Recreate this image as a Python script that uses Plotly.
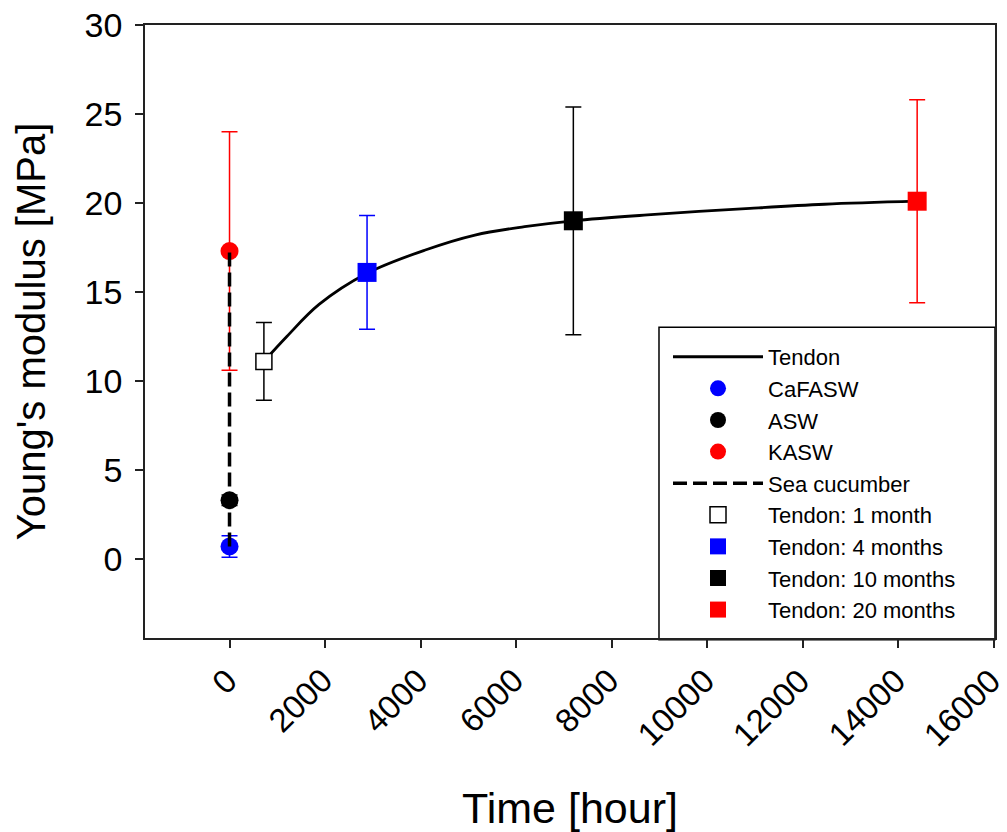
import plotly.graph_objects as go

# ---- data ----
sea_x = [0]
cafasw_y = [0.7]; cafasw_err = [0.6]
asw_y = [3.3]; asw_err = [0.3]
kasw_y = [17.3]; kasw_err = [6.7]

sea_line_x = [0, 0, 0]
sea_line_y = [0.7, 3.3, 17.3]

tendon_curve_x = [720, 1200, 1875, 2880, 4100, 5140, 6180, 7200, 8750, 10900, 12460, 14400]
tendon_curve_y = [11.1, 12.5, 14.3, 16.05, 17.36, 18.2, 18.67, 19.0, 19.33, 19.7, 19.93, 20.1]

t1_x = [720]; t1_y = [11.1]; t1_err = [2.18]
t4_x = [2880]; t4_y = [16.1]; t4_err = [3.2]
t10_x = [7200]; t10_y = [19.0]; t10_err = [6.4]
t20_x = [14400]; t20_y = [20.1]; t20_err = [5.7]

x_ticks = [0, 2000, 4000, 6000, 8000, 10000, 12000, 14000, 16000]
x_tick_text = ["0", "2000", "4000", "6000", "8000", "10000", "12000", "14000", "16000"]
y_ticks = [0, 5, 10, 15, 20, 25, 30]
y_tick_text = ["0", "5", "10", "15", "20", "25", "30"]

FONT = "Liberation Sans, Arial, sans-serif"

fig = go.Figure()

def eb(vals, color):
    return dict(type="data", array=vals, visible=True, color=color, thickness=1.5, width=8)

fig.add_trace(go.Scatter(x=tendon_curve_x, y=tendon_curve_y, mode="lines", name="Tendon",
                         line=dict(color="black", width=2.8, shape="spline", smoothing=1.0),
                         legendgroup="a"))
fig.add_trace(go.Scatter(x=sea_x, y=cafasw_y, mode="markers", name="CaFASW",
                         marker=dict(symbol="circle", size=18, color="#0000ff"),
                         error_y=eb(cafasw_err, "#0000ff"), legendgroup="b"))
fig.add_trace(go.Scatter(x=sea_x, y=asw_y, mode="markers", name="ASW",
                         marker=dict(symbol="circle", size=18, color="black"),
                         error_y=eb(asw_err, "black"), legendgroup="c"))
fig.add_trace(go.Scatter(x=sea_x, y=kasw_y, mode="markers", name="KASW",
                         marker=dict(symbol="circle", size=18, color="#ff0000"),
                         error_y=eb(kasw_err, "#ff0000"), legendgroup="d"))
fig.add_trace(go.Scatter(x=sea_line_x, y=sea_line_y, mode="lines", name="Sea cucumber",
                         line=dict(color="black", width=3.5, dash="14px,6px"), legendgroup="e"))
fig.add_trace(go.Scatter(x=t1_x, y=t1_y, mode="markers", name="Tendon: 1 month",
                         marker=dict(symbol="square", size=16, color="white",
                                     line=dict(color="black", width=1.5)),
                         error_y=eb(t1_err, "black"), legendgroup="f"))
fig.add_trace(go.Scatter(x=t4_x, y=t4_y, mode="markers", name="Tendon: 4 months",
                         marker=dict(symbol="square", size=19, color="#0000ff"),
                         error_y=eb(t4_err, "#0000ff"), legendgroup="g"))
fig.add_trace(go.Scatter(x=t10_x, y=t10_y, mode="markers", name="Tendon: 10 months",
                         marker=dict(symbol="square", size=19, color="black"),
                         error_y=eb(t10_err, "black"), legendgroup="h"))
fig.add_trace(go.Scatter(x=t20_x, y=t20_y, mode="markers", name="Tendon: 20 months",
                         marker=dict(symbol="square", size=19, color="#ff0000"),
                         error_y=eb(t20_err, "#ff0000"), legendgroup="i"))

axis_common = dict(showline=True, linecolor="#222", linewidth=1.5, mirror=True,
                   ticks="outside", ticklen=8, tickwidth=1.5, tickcolor="#222",
                   showgrid=False, zeroline=False, automargin=False,
                   ticklabeloverflow="allow")

# legend frame (paper coords)
fig.add_shape(type="rect", xref="paper", yref="paper", x0=0.6047, x1=1.0, y0=-0.003, y1=0.507,
              line=dict(color="black", width=1.5), fillcolor="white", layer="below")

# rotated x tick labels placed at the axis tick values
for tv, tt in zip(x_ticks, x_tick_text):
    fig.add_annotation(x=tv, xref="x", y=0, yref="paper", text=tt, showarrow=False,
                       textangle=-45, xanchor="right", yanchor="top",
                       xshift=17, yshift=-21,
                       font=dict(family=FONT, size=33, color="black"))

fig.update_layout(
    width=999, height=824,
    margin=dict(l=137, r=12, t=17, b=194),
    paper_bgcolor="white", plot_bgcolor="white",
    font=dict(family=FONT, color="black"),
    xaxis=dict(range=[-1770, 16030], tickvals=x_ticks, showticklabels=False,
               title=dict(text="Time [hour]", font=dict(family=FONT, size=43), standoff=148),
               **axis_common),
    yaxis=dict(range=[-4.44, 30], tickvals=y_ticks, ticktext=y_tick_text, ticklabelstandoff=6,
               tickfont=dict(family=FONT, size=34, color="black"),
               title=dict(text="Young's modulus [MPa]", font=dict(family=FONT, size=40), standoff=27),
               **axis_common),
    legend=dict(x=0.6153, y=0.4927, xanchor="left", yanchor="top",
                bgcolor="rgba(0,0,0,0)", borderwidth=0,
                font=dict(family=FONT, size=22, color="black"),
                traceorder="grouped", tracegroupgap=0, itemwidth=90,
                itemclick=False),
    showlegend=True,
)

fig.write_html("out.html")
